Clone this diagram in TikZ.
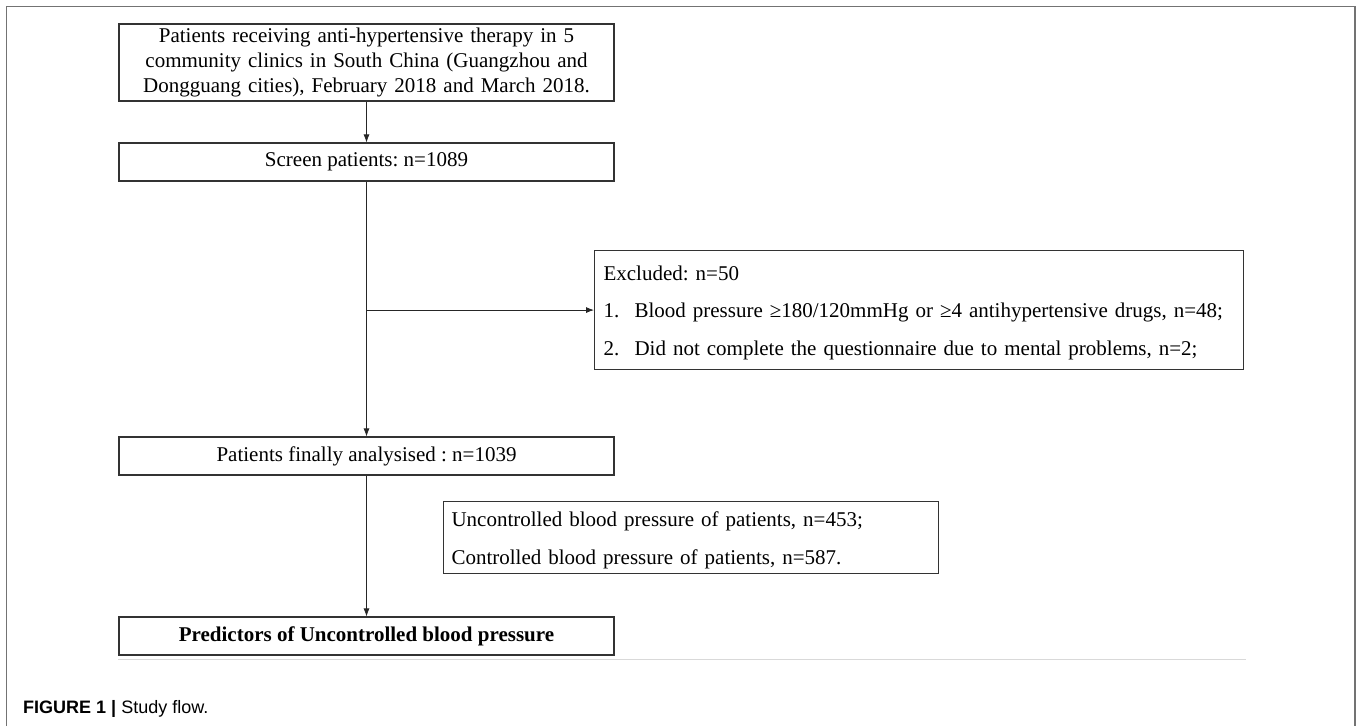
\documentclass[tikz,border=0pt]{standalone}
\usepackage{fontspec}
\setmainfont{Liberation Serif}
\newfontfamily\capfont{Liberation Sans}
\usetikzlibrary{arrows.meta,positioning,calc}
\frenchspacing

\begin{document}
\begin{tikzpicture}[x=1pt,y=-1pt,>={Latex[length=8pt,width=6pt]},
 font=\fontsize{21}{25}\selectfont,
 box/.style={draw=black!80,line width=1.1pt,rectangle,minimum width=495,minimum height=38,inner sep=0pt,align=center},
 note/.style={draw=black!80,line width=1.1pt,rectangle,inner xsep=9pt,inner ysep=0pt,align=left,anchor=north west},
 link/.style={draw=black!85,line width=0.8pt}]
\useasboundingbox (0,0) rectangle (1358,726);
% outer frame
\draw[black!55,line width=1.5pt] (6.5,726) -- (6.5,6.5) -- (1355,6.5) -- (1355,726);
% main column
\node[box,minimum height=77,text width=485] (source) at (366.5,62.5)
 {Patients receiving anti-hypertensive therapy in 5\\community clinics in South China (Guangzhou and\\Dongguang cities), February 2018 and March 2018.};
\node[box] (screen) at (366.5,162) {Screen patients: n=1089};
\node[box] (analysed) at (366.5,456) {Patients finally analysised : n=1039};
\node[box] (final) at (366.5,636) {\bfseries Predictors of Uncontrolled blood pressure};
% side notes
\node[note,text width=631,minimum height=119] (excl) at (594,250)
 {\rule{0pt}{20pt}Excluded: n=50\\[12.5pt]
  \makebox[31pt][l]{1.}Blood pressure ≥180/120mmHg or ≥4 antihypertensive drugs, n=48;\\[12.5pt]
  \makebox[31pt][l]{2.}Did not complete the questionnaire due to mental problems, n=2;};
\node[note,inner xsep=8pt,text width=479,minimum height=72] (groups) at (443,501)
 {\rule{0pt}{20pt}Uncontrolled blood pressure of patients, n=453;\\[13pt]
  Controlled blood pressure of patients, n=587.};
% connectors
\coordinate (split) at (screen |- excl.west);
\draw[link,->] (source) -- (screen);
\draw[link,->] (screen) -- (analysed);
\draw[link,->] (split) -- (excl.west);
\draw[link,->] (analysed) -- (final);
% rule and caption
\draw[black!15,line width=1.6pt] ([yshift=-4pt]final.south west) -- ++(1128,0);
\node[anchor=base west,inner sep=0pt,font=\capfont\fontsize{18}{20}\selectfont] (caption) at (23,713)
 {\textbf{FIGURE 1 |} Study flow.};
\end{tikzpicture}
\end{document}
